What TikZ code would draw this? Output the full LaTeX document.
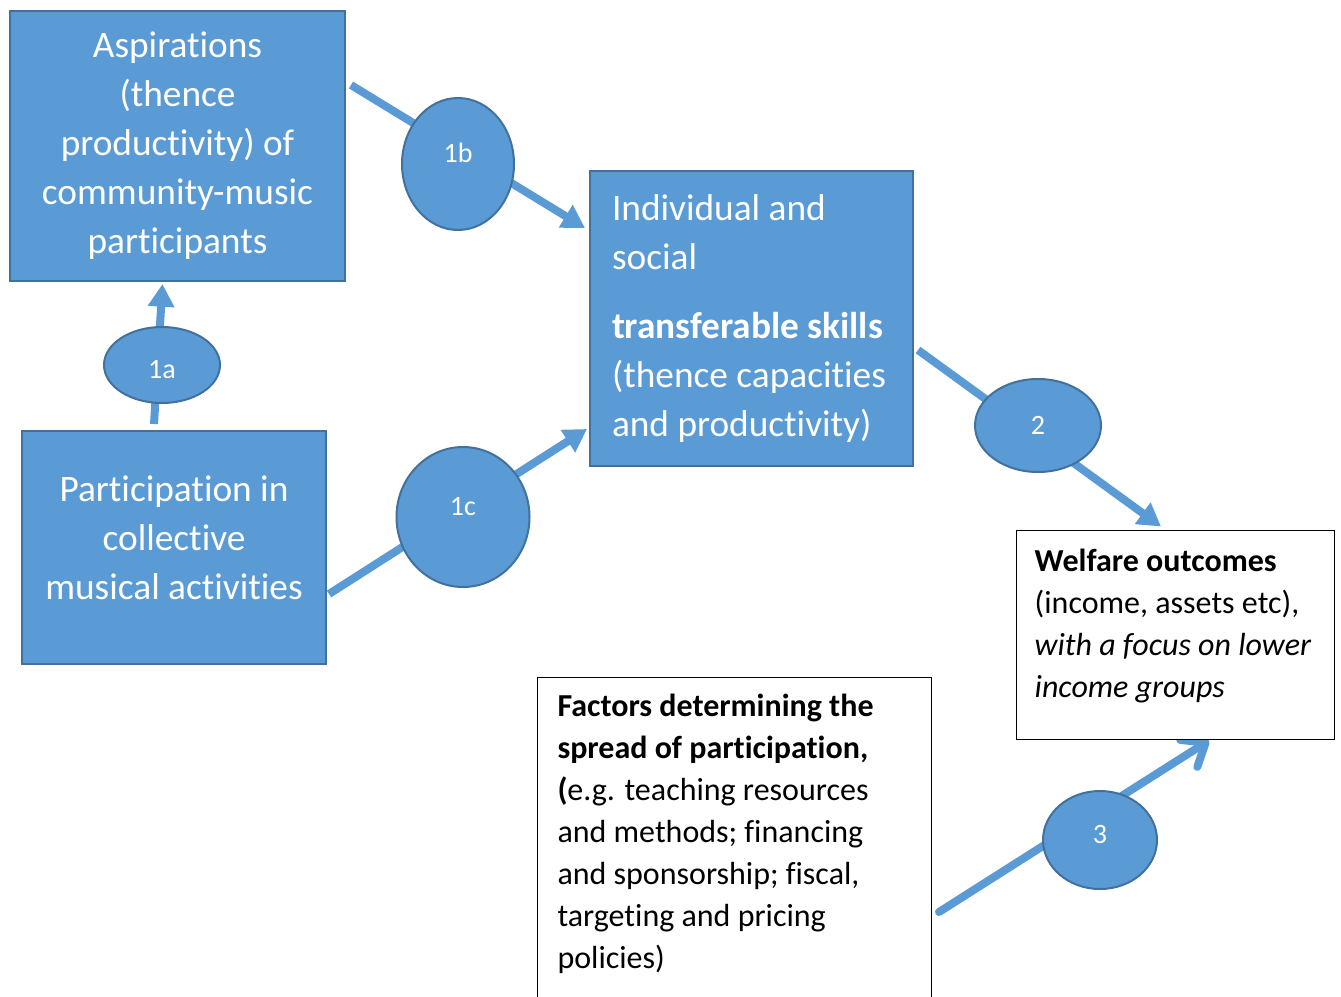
\documentclass[tikz,border=0pt]{standalone}
\usepackage{fontspec}
\setmainfont{Carlito}[Ligatures=NoCommon]
\usetikzlibrary{shapes.geometric,arrows.meta,backgrounds,calc}

\definecolor{boxblue}{HTML}{5B9BD5}
\definecolor{edgeblue}{HTML}{41719C}

\tikzset{
  bluebox/.style={draw=edgeblue, line width=1.5pt, fill=boxblue, text=white,
    inner sep=0pt, font=\fontsize{28pt}{36.75pt}\selectfont},
  notebox/.style={draw=black, line width=0.75pt, fill=white, align=flush left,
    font=\fontsize{24pt}{31.5pt}\selectfont},
  badge/.style={ellipse, draw=edgeblue, line width=1.5pt, fill=boxblue, text=white,
    inner sep=0pt, font=\fontsize{21pt}{25pt}\selectfont},
  flow/.style={draw=boxblue, line width=6pt, -{Triangle[length=17pt,width=19pt]}},
  openflow/.style={draw=boxblue, line width=6pt, line cap=round,
    -{Straight Barb[length=15pt,width=24pt,round]}},
}

\begin{document}
\begin{tikzpicture}[x=0.75pt, y=-0.75pt]

% Page frame
\useasboundingbox (0,0) rectangle (1341,996);

% Blue boxes
\node[bluebox, minimum width=251.25pt, minimum height=202.5pt, align=flush center,
  text width=245pt]
  (asp) at (177.5,146)
  {Aspirations\\(thence\\productivity) of\\community-music\\participants};
\node[bluebox, minimum width=228pt, minimum height=174.75pt, align=flush center,
  text width=222pt]
  (part) at (174,547.5)
  {Participation in\\collective\\musical activities\rule[-15pt]{0pt}{15pt}};
\node[bluebox, minimum width=242.25pt, minimum height=221.25pt, align=flush left,
  text width=209.25pt]
  (skills) at (751.5,318.5)
  {Individual and\\social\\[15pt]\textbf{transferable skills}\\(thence capacities\\and productivity)};

% White boxes
\node[notebox, minimum width=238.5pt, minimum height=156.75pt, inner xsep=14pt,
  text width=210.5pt]
  (welfare) at (1175,634.5)
  {\textbf{Welfare outcomes}\\(income, assets etc),\\\textit{with a focus on lower}\\\textit{income groups}\rule[-17pt]{0pt}{17pt}};
\node[notebox, anchor=north west, inner xsep=15pt, inner ysep=12.75pt,
  text width=265.5pt]
  (factors) at (537,677)
  {\textbf{Factors determining the}\\\textbf{spread of participation,}\\\textbf{(}e.g. teaching resources\\and methods; financing\\and sponsorship; fiscal,\\targeting and pricing\\policies)\rule[-24pt]{0pt}{24pt}};

% Link labels
\node[badge, minimum width=87pt, minimum height=57pt, text height=20pt] (l1a) at (162,365) {1a};
\node[badge, minimum width=84pt, minimum height=99pt, text depth=17pt] (l1b) at (458,164) {1b};
\node[badge, minimum width=99.75pt, minimum height=105pt, text depth=16pt] (l1c) at (463,517) {1c};
\node[badge, minimum width=94.5pt, minimum height=69.75pt] (l2) at (1038,425.5) {2};
\node[badge, minimum width=85.5pt, minimum height=73.5pt, text depth=9pt] (l3) at (1100,840) {3};

% Arrows behind the labels
\begin{scope}[on background layer]
\draw[flow] ($(part.north)+(-20,-6)$) -- ($(asp.south)+(-15,2)$);
\draw[flow] ($(asp.north east)+(5,75)$) -- ($(skills.north west)+(-4,58)$);
\draw[flow] ($(part.east)+(2,46.5)$) -- ($(skills.south west)+(-2,-38)$);
\draw[flow] ($(skills.east)+(4,31.5)$) -- ($(welfare.north)+(-14,-3)$);
\draw[openflow] ($(factors.north east)+(7,235)$) -- ($(welfare.south)+(34,1)$);
\end{scope}

\end{tikzpicture}
\end{document}
